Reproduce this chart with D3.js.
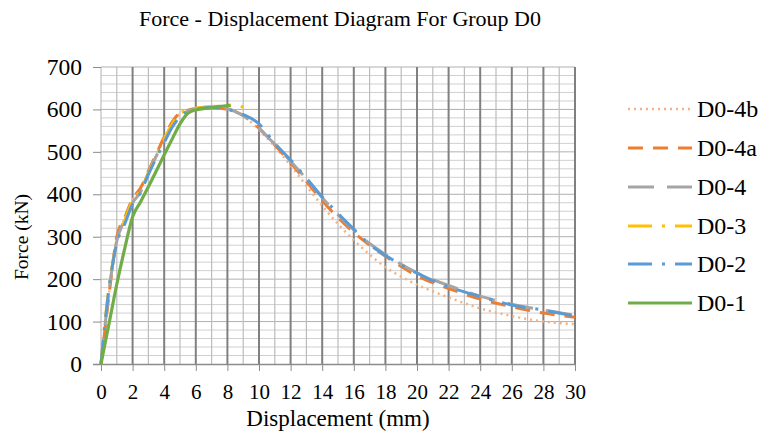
<!DOCTYPE html>
<html><head><meta charset="utf-8">
<script src="https://cdn.jsdelivr.net/npm/d3@7"></script>
<style>
body{margin:0;background:#fff}
svg{display:block}
</style></head>
<body>
<svg id="c" width="761" height="439"></svg>
<script>
// ---- data ----
const seriesNames = ["D0-4b","D0-4a","D0-4","D0-3","D0-2","D0-1"];
const xTicks = [0,2,4,6,8,10,12,14,16,18,20,22,24,26,28,30];
const yTicks = [0,100,200,300,400,500,600,700];

const d04b_x = [0,0.5,1,1.5,2,2.5,3,3.5,4,4.5,5,5.5,6,7,8,9,10,11,12,13,14,15,16,17,18,19,20,22,24,26,28,30];
const d04b_y = [0,165,295,342,388,412,452,492,532,567,590,598,601,604,601,585,552,512,468,420,373,330,292,258,228,206,187,157,131,113,100,94];

const d04a_x = [0,0.5,1,1.5,2,2.5,3,3.5,4,4.5,5,5.5,6,7,8,9,10,11,12,13,14,15,16,17,18,19,20,22,24,26,28,30];
const d04a_y = [0,160,300,345,390,415,455,495,535,570,592,598,602,604,600,586,556,516,474,430,385,345,310,280,254,230,208,178,153,135,120,110];

const d04_x = [0,0.5,1,1.5,2,2.5,3,3.5,4,4.5,5,5.5,6,7,8,9,10,11,12,13,14,15,16,17,18,19,20,22,24,26,28,30];
const d04_y = [0,170,290,340,380,405,450,490,525,560,585,597,601,604,601,585,555,518,478,436,392,352,316,284,258,235,215,185,160,141,127,115];

const d03_x = [0,0.5,1,1.5,2,2.5,3,3.5,4,4.5,5,5.5,6,7,8,8.6,9];
const d03_y = [0,180,285,338,385,410,450,490,530,565,590,598,603,607,608,610,605];

const d02_x = [0,0.5,1,1.5,2,2.5,3,3.5,4,4.5,5,5.5,6,7,8,9,10,11,12,13,14,15,16,17,18,19,20,22,24,26,28,30];
const d02_y = [0,175,285,330,377,404,447,486,522,558,582,596,600,605,600,588,566,520,481,438,394,355,318,282,256,234,214,182,159,139,127,113];

const d01_x = [0,0.5,1,1.5,2,2.5,3,3.5,4,4.5,5,5.5,6,6.5,7,7.5,8,8.2];
const d01_y = [0,94,188,272,347,382,418,455,493,530,566,591,599,602,604,607,609,610];

const seriesX = [d04b_x,d04a_x,d04_x,d03_x,d02_x,d01_x];
const seriesY = [d04b_y,d04a_y,d04_y,d03_y,d02_y,d01_y];
const colors = ["#F4B183","#ED7D31","#A5A5A5","#FFC000","#5B9BD5","#70AD47"];
const dashes = ["2,4","15,10","26,13","24,10,3,10","24,10,3,10",null];
const widths = [2.5,3,3,3,3,3.2];
const FONT = "'Liberation Serif', 'Times New Roman', 'DejaVu Serif', serif";

// ---- chart ----
const svg = d3.select("#c");
const x = d3.scaleLinear().domain([0,30]).range([101,575]);
const y = d3.scaleLinear().domain([0,700]).range([364,67]);

// horizontal minor grid every 20
const g = svg.append("g");
g.selectAll("line.h").data(d3.range(20,701,20)).join("line")
  .attr("x1",x(0)).attr("x2",x(30))
  .attr("y1",d=>y(d)).attr("y2",d=>y(d))
  .attr("stroke",d=>d%100===0?"#b0b0b0":"#d0d0d0").attr("stroke-width",1);
// vertical grid
g.selectAll("line.v").data(d3.range(0,31,1)).join("line")
  .attr("y1",y(0)).attr("y2",y(700))
  .attr("x1",d=>x(d)).attr("x2",d=>x(d))
  .attr("stroke",d=>(d%2===0&&d!==0)?"#808080":"#bcbcbc")
  .attr("stroke-width",d=>(d%2===0&&d!==0)?2:1.2);

// axes
const xa = svg.append("g").attr("transform",`translate(0,${y(0)})`)
  .call(d3.axisBottom(x).tickValues(xTicks).tickSize(7).tickPadding(13).tickFormat(d3.format("d")));
xa.attr("font-family",null);
xa.select(".domain").attr("stroke","#8c8c8c").attr("stroke-width",1.5).attr("d",`M93,0.5H575`);
xa.selectAll(".tick line").attr("stroke","#8c8c8c");
xa.selectAll("text").style("font-family",FONT).style("font-size","21px").attr("fill","#000");

const ya = svg.append("g").attr("transform",`translate(${x(0)},0)`)
  .call(d3.axisLeft(y).tickValues(yTicks).tickSize(8).tickPadding(11));
ya.attr("font-family",null);
ya.select(".domain").remove();
ya.selectAll(".tick line").attr("stroke","#8c8c8c");
ya.selectAll("text").style("font-family",FONT).style("font-size","23.5px").attr("fill","#000");

// lines
const line = d3.line().curve(d3.curveMonotoneX);
seriesNames.forEach((name,i)=>{
  const pts = seriesX[i].map((v,k)=>[x(v),y(seriesY[i][k])]);
  svg.append("path").attr("d",line(pts)).attr("fill","none")
    .attr("stroke",colors[i]).attr("stroke-width",widths[i])
    .attr("stroke-dasharray",dashes[i]).attr("stroke-linejoin","round");
});

// title & labels
svg.append("text").attr("x",340).attr("y",26).attr("text-anchor","middle")
  .style("font-family",FONT).style("font-size","22px").text("Force - Displacement Diagram For Group D0");
svg.append("text").attr("x",338).attr("y",425.5).attr("text-anchor","middle")
  .style("font-family",FONT).style("font-size","23px").text("Displacement (mm)");
svg.append("text").attr("transform","translate(28,237) rotate(-90)").attr("text-anchor","middle")
  .style("font-family",FONT).style("font-size","19.5px").text("Force (kN)");

// legend
const legY = [109,148,187,226,264,303];
const lg = svg.append("g");
seriesNames.forEach((name,i)=>{
  lg.append("line").attr("x1",628).attr("x2",692).attr("y1",legY[i]).attr("y2",legY[i])
    .attr("stroke",colors[i]).attr("stroke-width",widths[i]).attr("stroke-dasharray",dashes[i]);
  lg.append("text").attr("x",697).attr("y",legY[i]).attr("dy","0.35em")
    .style("font-family",FONT).style("font-size","24px").text(name);
});
</script>
</body></html>
